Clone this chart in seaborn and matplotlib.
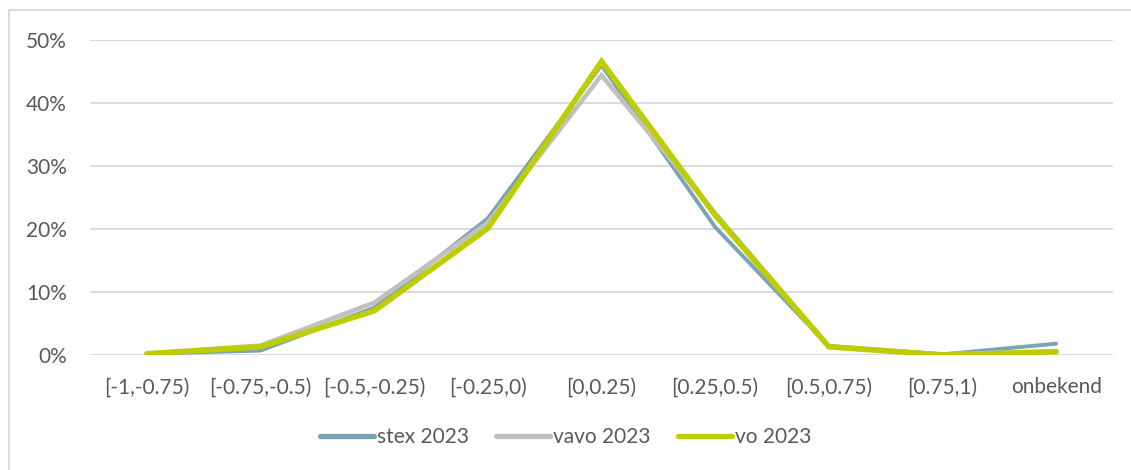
import matplotlib
matplotlib.use("Agg")
import matplotlib.pyplot as plt
import seaborn as sns
import pandas as pd
from matplotlib.ticker import PercentFormatter, FixedLocator
from matplotlib.patches import Rectangle

categories = ["[-1,-0.75)", "[-0.75,-0.5)", "[-0.5,-0.25)", "[-0.25,0)", "[0,0.25)",
              "[0.25,0.5)", "[0.5,0.75)", "[0.75,1)", "onbekend"]
stex_2023 = [0.002, 0.007, 0.075, 0.217, 0.460, 0.203, 0.014, 0.001, 0.018]
vavo_2023 = [0.002, 0.015, 0.083, 0.210, 0.444, 0.225, 0.014, 0.001, 0.006]
vo_2023 = [0.002, 0.013, 0.070, 0.201, 0.466, 0.222, 0.013, 0.000, 0.005]
series_names = ["stex 2023", "vavo 2023", "vo 2023"]
colors = ["#7BA3B6", "#C0C0C0", "#BECD00"]
widths = [2.8, 3.3, 4.0]

rows = []
for name, vals in zip(series_names, [stex_2023, vavo_2023, vo_2023]):
    for i, (c, v) in enumerate(zip(categories, vals)):
        rows.append({"pos": i, "cat": c, "value": v, "series": name})
df = pd.DataFrame(rows)

sns.set_theme(style="white")
plt.rcParams["font.family"] = ["Lato", "DejaVu Sans"]

fig = plt.figure(figsize=(11.31, 4.70), dpi=100)
ax = fig.add_axes([90 / 1131, 1 - 355 / 470, (1113 - 90) / 1131, (355 - 40) / 470])

for name, col, lw in zip(series_names, colors, widths):
    sns.lineplot(data=df[df["series"] == name], x="pos", y="value", ax=ax,
                 color=col, linewidth=lw, label=name, solid_capstyle="round",
                 solid_joinstyle="miter", zorder=3)

ax.set_xlim(-0.5, len(categories) - 0.5)
ax.set_ylim(0, 0.5)
ax.yaxis.set_major_locator(FixedLocator([0, 0.1, 0.2, 0.3, 0.4, 0.5]))
ax.yaxis.set_major_formatter(PercentFormatter(1.0, decimals=0))
ax.set_xticks(range(len(categories)))
ax.set_xticklabels(categories)
ax.set_xlabel("")
ax.set_ylabel("")
ax.grid(axis="y", color="#D9D9D9", linewidth=1.3, zorder=0)
ax.grid(axis="x", visible=False)
for s in ax.spines.values():
    s.set_visible(False)
ax.tick_params(axis="both", length=0, labelsize=15, labelcolor="#595959")
ax.tick_params(axis="x", pad=16)
ax.tick_params(axis="y", pad=16.5)

ax.get_legend().remove()
handles, labels = ax.get_legend_handles_labels()
leg = fig.legend(handles, labels, loc="center", bbox_to_anchor=(0.5, 1 - 437 / 470),
                 ncol=3, frameon=False, fontsize=15, handlelength=2.6,
                 handletextpad=0.15, columnspacing=1.3, labelcolor="#595959")
for h in leg.get_lines():
    h.set_linewidth(3.8)
    h.set_solid_capstyle("round")

fig.patches.append(Rectangle((8.5 / 1131, -0.1), 1.2, 1.1 - 10.5 / 470,
                             transform=fig.transFigure, fill=False,
                             edgecolor="#D9D9D9", linewidth=1.3, zorder=0))

fig.savefig("out.png", dpi=100, facecolor="white")
